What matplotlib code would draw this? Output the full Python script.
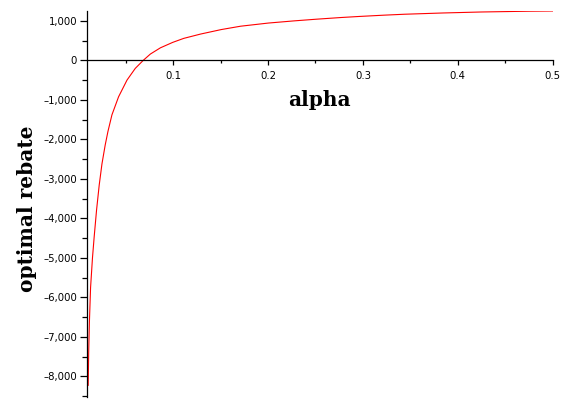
import numpy as np
import matplotlib
matplotlib.use("Agg")
import matplotlib.pyplot as plt
from matplotlib.ticker import MultipleLocator, FuncFormatter

# values
alpha = [0.0105, 0.0110, 0.0118, 0.0130, 0.0150, 0.0168, 0.0193, 0.0221,
         0.0250, 0.0284, 0.0313, 0.0355, 0.0425, 0.0514, 0.0601, 0.0685,
         0.0760, 0.0866, 0.0996, 0.1112, 0.1289, 0.1507, 0.1711, 0.2004,
         0.2275, 0.2507, 0.2769, 0.2962, 0.3226, 0.3438, 0.3843, 0.4248,
         0.4759, 0.5]
rebate = [-8228, -7400, -6600, -5750, -5000, -4466, -3790, -3157,
          -2620, -2144, -1800, -1380, -922, -499, -203, 0,
          160, 318, 456, 557, 666, 780, 865, 945,
          1000, 1042, 1085, 1112, 1145, 1168, 1200, 1225,
          1245, 1250]

x_label = "alpha"
y_label = "optimal rebate"

fig = plt.figure(figsize=(5.66, 4.09), dpi=100)
ax = fig.add_axes([0.1545, 0.0301, 0.822, 0.943])

ax.plot(alpha, rebate, color="red", lw=0.8)

ax.set_xlim(0.0097, 0.5)
ax.set_ylim(-8516, 1250)

ax.spines["top"].set_visible(False)
ax.spines["right"].set_visible(False)
ax.spines["bottom"].set_position(("data", 0))
for s in ("left", "bottom"):
    ax.spines[s].set_linewidth(0.9)

ax.xaxis.set_major_locator(MultipleLocator(0.1))
ax.xaxis.set_minor_locator(MultipleLocator(0.05))
ax.yaxis.set_major_locator(MultipleLocator(1000))
ax.yaxis.set_minor_locator(MultipleLocator(500))
ax.xaxis.set_major_formatter(FuncFormatter(lambda v, p: "%g" % round(v, 2)))
ax.yaxis.set_major_formatter(FuncFormatter(lambda v, p: "{:,.0f}".format(v).replace("-", "\u2013")))

ax.tick_params(axis="x", which="major", length=3.8, width=0.9, pad=4, labelsize=7.3)
ax.tick_params(axis="x", which="minor", length=2.2, width=0.9)
ax.tick_params(axis="y", which="major", length=5, width=0.9, pad=2.5, labelsize=7.3)
ax.tick_params(axis="y", which="minor", length=3.6, width=0.9)

fig.text(0.5645, 0.7555, x_label, ha="center", va="center",
         family="DejaVu Serif", weight="bold", fontsize=14.5)
fig.text(0.0471, 0.4885, y_label, ha="center", va="center", rotation=90,
         family="DejaVu Serif", weight="bold", fontsize=14.5)

fig.savefig("out.png", dpi=100)
